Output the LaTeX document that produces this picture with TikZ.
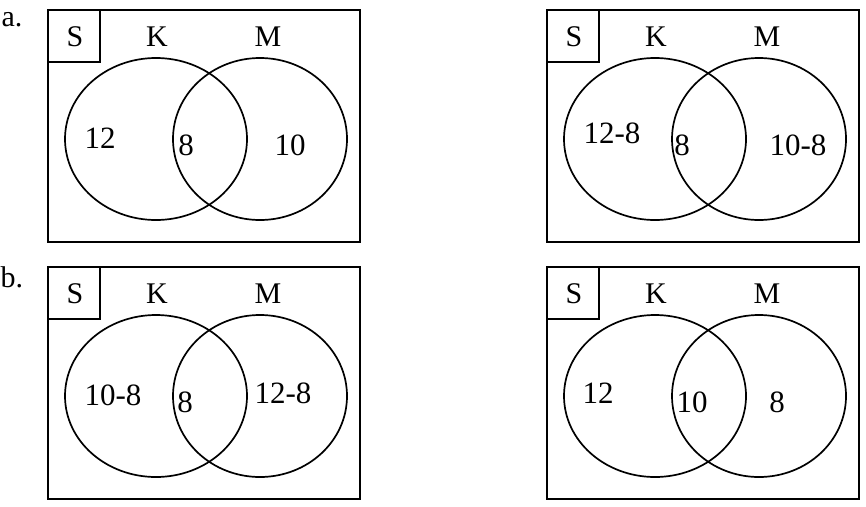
\documentclass[tikz,border=0pt]{standalone}
\usepackage{fontspec}
\setmainfont{Liberation Serif}
\tikzset{
  frame/.style={draw=black, line width=1.7pt},
  sbox/.style={draw=black, line width=1.3pt},
  setcirc/.style={draw=black, line width=1.7pt},
  lbl/.style={inner sep=0pt, font=\fontsize{30}{36}\selectfont},
  num/.style={inner sep=0pt, font=\fontsize{31}{37}\selectfont},
}
\newcommand{\vennpanel}[4]{%
  \begin{scope}[shift={(#1,#2)}]
    \draw[frame] (0,0) rectangle (312,232);
    \draw[sbox] (0,0) rectangle (52,52);
    \node[lbl] (S#3) at (27,27) {S};
    \node[lbl] (K#3) at (109,27) {K};
    \node[lbl] (M#3) at (220,27) {M};
    \draw[setcirc] (108,129) ellipse [x radius=91, y radius=81];
    \draw[setcirc] (212,129) ellipse [x radius=87, y radius=81];
    #4
  \end{scope}}
\begin{document}
\begin{tikzpicture}[x=1pt,y=-1pt]
\useasboundingbox (0,0) rectangle (866,506);
\node[lbl] (la) at (12,20) {a.};
\node[lbl] (lb) at (12,277) {b.};
\vennpanel{48}{10}{1}{%
  \node[num] (n11) at (52,128) {12};
  \node[num] (n12) at (138,135) {8};
  \node[num] (n13) at (242,135) {10};}
\vennpanel{547}{10}{2}{%
  \node[num] (n21) at (65,123) {12-8};
  \node[num] (n22) at (135,135) {8};
  \node[num] (n23) at (251,135) {10-8};}
\vennpanel{48}{267}{3}{%
  \node[num] (n31) at (65,128) {10-8};
  \node[num] (n32) at (137,135) {8};
  \node[num] (n33) at (235,126) {12-8};}
\vennpanel{547}{267}{4}{%
  \node[num] (n41) at (51,126) {12};
  \node[num] (n42) at (145,135) {10};
  \node[num] (n43) at (230,135) {8};}
\end{tikzpicture}
\end{document}
